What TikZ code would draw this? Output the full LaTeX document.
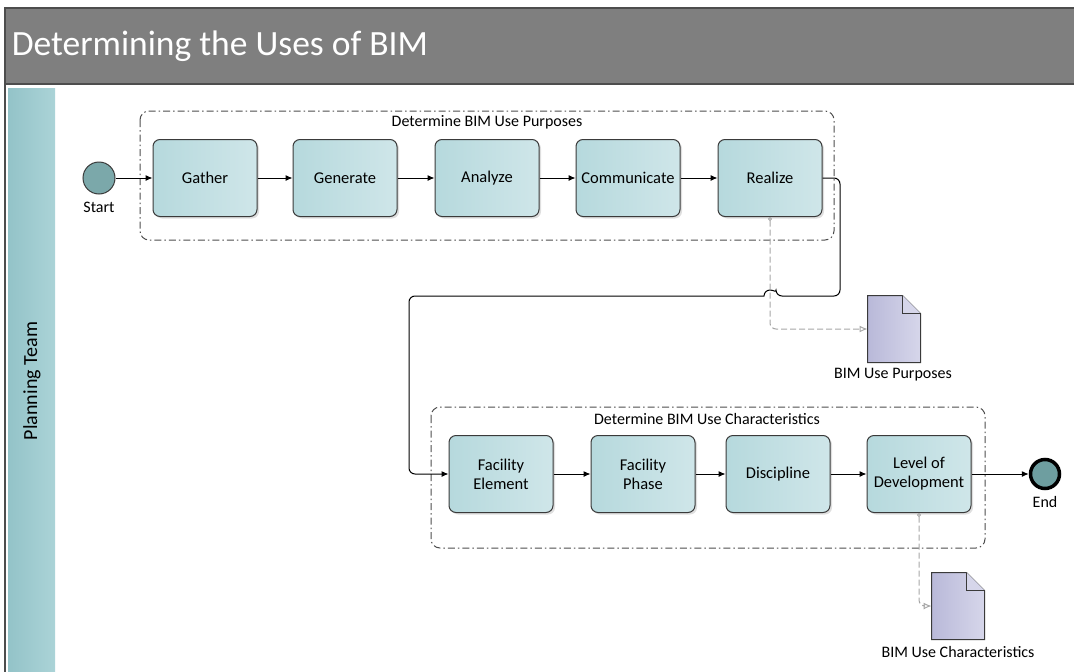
\documentclass[tikz,border=0pt]{standalone}
\usepackage{fontspec}
\setmainfont{Carlito}
\usetikzlibrary{%
  arrows.meta,
  calc,
  shadows
}
\definecolor{titlegray}{HTML}{7F7F7F}
\definecolor{framegray}{HTML}{4D4D4D}
\definecolor{laneA}{HTML}{93C3C8}
\definecolor{laneB}{HTML}{ABD3D7}
\definecolor{taskA}{HTML}{B6D9DD}
\definecolor{taskB}{HTML}{CFE6E9}
\definecolor{taskline}{HTML}{3A3A3A}
\definecolor{startfill}{HTML}{7BA8AA}
\definecolor{endfill}{HTML}{6E9EA0}
\definecolor{docA}{HTML}{B9B9D9}
\definecolor{docB}{HTML}{D6D6EA}
\definecolor{assocgray}{HTML}{A6A6A6}
\tikzset{>={Latex[length=7pt,width=6pt]}}
\tikzset{
  task/.style={draw=taskline, rounded corners=7pt, minimum width=104pt,
    minimum height=77pt, left color=taskA, right color=taskB,
    align=center, font=\fontsize{16.5}{19}\selectfont,
    drop shadow={shadow xshift=2pt, shadow yshift=-2pt, opacity=0.25}},
  event/.style={circle, draw=taskline, inner sep=0pt},
  group/.style={draw=framegray, rounded corners=9pt,
    dash pattern=on 7pt off 3pt on 1.5pt off 3pt},
  doc/.style={minimum width=52pt, minimum height=66pt, inner sep=0pt},
  label/.style={font=\fontsize{16}{19}\selectfont},
  flow/.style={->, rounded corners=6pt},
  assoc/.style={draw=assocgray, dash pattern=on 6pt off 3pt, rounded corners=6pt,
    {Circle[open,length=4pt]}-{Latex[open,length=8pt,width=7pt]}}
}

\begin{document}
\begin{tikzpicture}[x=1pt,y=-1pt,line width=1pt]
  \useasboundingbox (0,0) rectangle (1074,672);

  % title bar and lane
  \fill[titlegray] (5,8) rectangle (1074,84);
  \draw[framegray, line width=1.5pt] (5,672) -- (5,8) -- (1074,8);
  \draw[framegray, line width=1.5pt] (5,84) -- (1074,84);
  \node[anchor=west, text=white, font=\fontsize{35.5}{42}\selectfont] (title) at (8,46)
    {Determining the Uses of BIM};
  \shade[left color=laneA, right color=laneB] (8,88) rectangle (55,672);
  \node[rotate=90, font=\fontsize{20}{24}\selectfont] (lane) at (32,381) {Planning Team};

  % groups
  \draw[group] (140,111) rectangle (834,240);
  \node[label] (purpgrp) at (487,122) {Determine BIM Use Purposes};
  \draw[group] (431,407) rectangle (985,548);
  \node[label] (chargrp) at (707,419) {Determine BIM Use Characteristics};

  % events
  \node[event, fill=startfill, minimum size=32pt] (start) at (99,178) {};
  \node[label] (startlbl) at (99,207) {Start};
  \node[event, fill=endfill, minimum size=29pt, line width=3.5pt, draw=black] (end) at (1045,474) {};
  \node[label] (endlbl) at (1045,502) {End};

  % tasks
  \node[task] (gather)      at (205,178) {Gather};
  \node[task] (generate)    at (345,178) {Generate};
  \node[task] (analyze)     at (487,178) {Analyze};
  \node[task] (communicate) at (628,178) {Communicate};
  \node[task] (realize)     at (770,178) {Realize};

  \node[task] (felement) at (501,474) {Facility\\Element};
  \node[task] (fphase)   at (643,474) {Facility\\Phase};
  \node[task] (discip)   at (778,474) {Discipline};
  \node[task] (lod)      at (919,474) {Level of\\Development};

  % documents
  \node[doc] (purposes) at (894,329) {};
  \node[doc] (charact)  at (958,606) {};
  \foreach \d in {purposes,charact}{
    \draw[taskline, left color=docA, right color=docB]
      (\d.south west) -- (\d.north west) -- ($(\d.north east)+(-18,0)$)
      -- ($(\d.north east)+(0,18)$) -- (\d.south east) -- cycle;
    \draw[taskline, fill=docB] ($(\d.north east)+(-18,0)$)
      -- ($(\d.north east)+(-18,18)$) -- ($(\d.north east)+(0,18)$);
  }
  \node[label] (purplbl) at (893,375) {BIM Use Purposes};
  \node[label] (charlbl) at (958,652) {BIM Use Characteristics};

  % sequence flows
  \draw[flow] (start) -- (gather);
  \draw[flow] (gather) -- (generate);
  \draw[flow] (generate) -- (analyze);
  \draw[flow] (analyze) -- (communicate);
  \draw[flow] (communicate) -- (realize);
  \draw[flow] (realize.east) -- (840,178) -- (840,296) -- (776,296)
    [sharp corners] arc[start angle=0, end angle=-180, radius=6]
    [rounded corners=6pt] -- (409,296) -- (409,474) -- (felement.west);
  \draw[flow] (felement) -- (fphase);
  \draw[flow] (fphase) -- (discip);
  \draw[flow] (discip) -- (lod);
  \draw[flow] (lod) -- (end);

  % associations
  \draw[assoc] (realize.south) |- (purposes.west);
  \draw[assoc] (lod.south) |- (charact.west);

\end{tikzpicture}
\end{document}
